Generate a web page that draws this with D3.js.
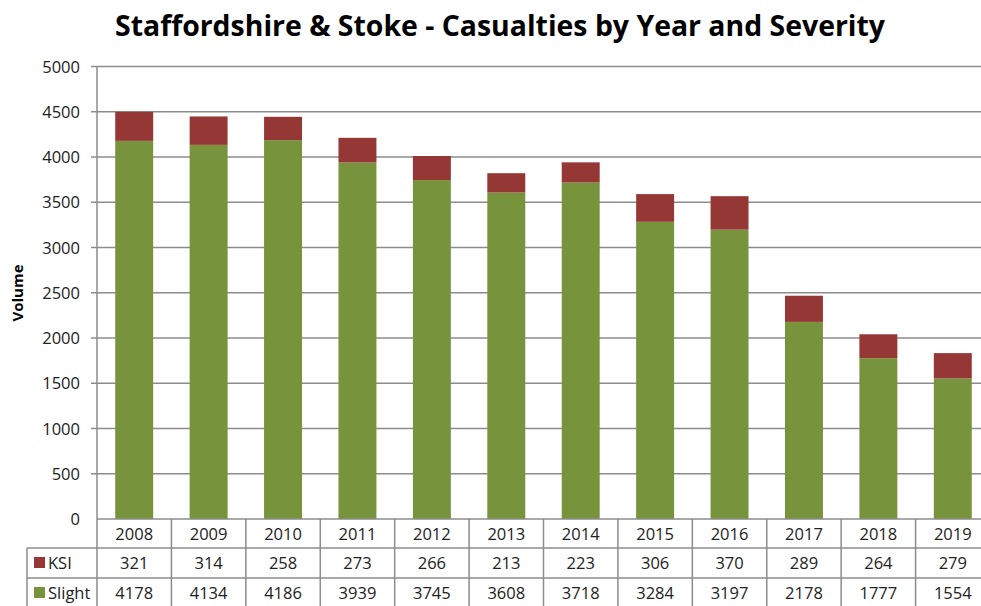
<!DOCTYPE html>
<html><head><meta charset="utf-8">
<script src="https://cdn.jsdelivr.net/npm/d3@7"></script>
<style>body{margin:0;background:#fff;overflow:hidden}</style>
</head><body>
<svg id="c" width="981" height="606"></svg>
<script>
const years = ["2008","2009","2010","2011","2012","2013","2014","2015","2016","2017","2018","2019"];
const ksi = [321,314,258,273,266,213,223,306,370,289,264,279];
const slight = [4178,4134,4186,3939,3745,3608,3718,3284,3197,2178,1777,1554];
const yTicks = [0,500,1000,1500,2000,2500,3000,3500,4000,4500,5000];
const seriesNames = ["KSI","Slight"];
const colors = {KSI:"#953735", Slight:"#77933C"};

const svg = d3.select("#c");
const pLeft = 97, pRight = 990, pTop = 66.5, pBottom = 519;
const x = d3.scaleBand().domain(years).range([pLeft, pRight]).paddingInner(0.49).paddingOuter(0.245);
const xCol = d3.scaleBand().domain(years).range([pLeft, pRight]);
const y = d3.scaleLinear().domain([0,5000]).range([pBottom, pTop]);
const font = "'Open Sans', Calibri, sans-serif";
const fs = 16.5;

// title
svg.append("text").attr("x", 500).attr("y", 36).attr("text-anchor","middle")
  .attr("font-family", font).attr("font-weight","bold").attr("font-size", 29)
  .attr("textLength", 770).attr("lengthAdjust","spacingAndGlyphs")
  .text("Staffordshire & Stoke - Casualties by Year and Severity");

// gridlines
svg.append("g").selectAll("line").data(yTicks.filter(d=>d>0)).join("line")
  .attr("x1", pLeft-6).attr("x2", 981).attr("y1", d=>y(d)).attr("y2", d=>y(d))
  .attr("stroke","#8c8c8c").attr("stroke-width",1.5);
// y axis line
svg.append("line").attr("x1", pLeft).attr("x2", pLeft).attr("y1", pTop).attr("y2", pBottom)
  .attr("stroke","#8c8c8c").attr("stroke-width",1.5);
// tick labels
svg.append("g").selectAll("text").data(yTicks).join("text")
  .attr("x", 80).attr("y", d=>y(d)+6).attr("text-anchor","end")
  .attr("font-family", font).attr("font-size", fs).attr("fill","#222").text(d=>d);

// y label
svg.append("text").attr("transform","translate(23,293) rotate(-90)").attr("text-anchor","middle")
  .attr("font-family", font).attr("font-weight","bold").attr("font-size", 15).text("Volume");

// bars
const stack = d3.stack().keys(["Slight","KSI"])(years.map((yr,i)=>({year:yr, Slight:slight[i], KSI:ksi[i]})));
svg.append("g").selectAll("g").data(stack).join("g")
  .attr("fill", d=>colors[d.key])
  .selectAll("rect").data(d=>d).join("rect")
  .attr("x", d=>x(d.data.year)).attr("width", x.bandwidth())
  .attr("y", d=>y(d[1])).attr("height", d=>y(d[0])-y(d[1]));

// table
const rowY = [519, 548, 578, 606];
const tg = svg.append("g").attr("stroke","#8c8c8c").attr("stroke-width",1.5);
tg.append("line").attr("x1", pLeft).attr("x2", 981).attr("y1", rowY[0]).attr("y2", rowY[0]);
tg.append("line").attr("x1", 27).attr("x2", 981).attr("y1", rowY[1]).attr("y2", rowY[1]);
tg.append("line").attr("x1", 27).attr("x2", 981).attr("y1", rowY[2]).attr("y2", rowY[2]);
tg.append("line").attr("x1", 27).attr("x2", 27).attr("y1", rowY[1]).attr("y2", 606);
tg.selectAll("line.v").data(years).join("line").attr("class","v")
  .attr("x1", d=>xCol(d)).attr("x2", d=>xCol(d)).attr("y1", rowY[0]).attr("y2", 606);

const rows = [years, ksi, slight];
rows.forEach((r,ri)=>{
  svg.append("g").selectAll("text").data(r).join("text")
    .attr("x",(d,i)=>xCol(years[i])+xCol.bandwidth()/2).attr("y", rowY[ri]+21)
    .attr("text-anchor","middle").attr("font-family", font).attr("font-size",fs).attr("fill","#222")
    .text(d=>d);
});
seriesNames.forEach((s,i)=>{
  svg.append("rect").attr("x",34).attr("y",rowY[i+1]+9).attr("width",11).attr("height",11).attr("fill",colors[s]);
  svg.append("text").attr("x",48).attr("y",rowY[i+1]+21).attr("font-family",font).attr("font-size",fs).attr("fill","#222").text(s);
});
</script>
</body></html>
